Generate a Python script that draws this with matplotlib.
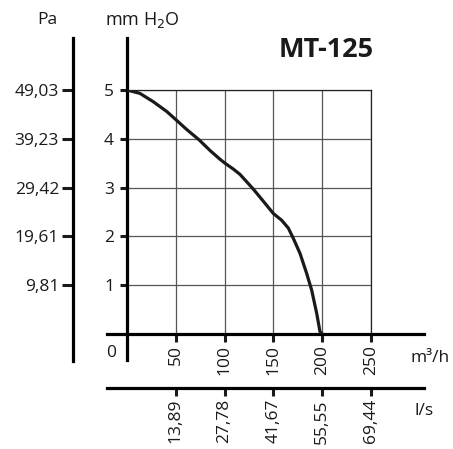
import numpy as np
import matplotlib
matplotlib.use("Agg")
import matplotlib.pyplot as plt

plt.rcParams['font.family'] = ['Open Sans', 'DejaVu Sans']

# curva caudal (m3/h) / presion (mm H2O)
caudal = [0, 13.3, 26.9, 40.7, 50.2, 61.2, 73.8, 85.1, 95.3, 100.4, 108.9, 115.8,
          129.4, 139.7, 149.9, 158.5, 165.3, 170.4, 177.3, 184.1, 189.2, 194.4, 197.7, 200]
presion = [5.0, 4.93, 4.76, 4.56, 4.39, 4.19, 3.98, 3.76, 3.58, 3.50, 3.38, 3.27,
           2.97, 2.72, 2.47, 2.33, 2.17, 1.96, 1.65, 1.24, 0.90, 0.42, 0.05, 0]

ticks_mmh = [50, 100, 150, 200, 250]
ticks_ls = ["13,89", "27,78", "41,67", "55,55", "69,44"]
ticks_mm = [1, 2, 3, 4, 5]
ticks_pa = ["9,81", "19,61", "29,42", "39,23", "49,03"]

W, H = 453, 449
fig = plt.figure(figsize=(W / 100, H / 100), dpi=100)
px = 72 / 100  # puntos por pixel
negro = '#1a1a1a'
fs = 12.5

pos = [127 / W, 1 - 334 / H, 244 / W, 244 / H]
ax = fig.add_axes(pos)
ax.set_xlim(0, 250)
ax.set_ylim(0, 5)

ax.plot(caudal, presion, color=negro, lw=2.3, solid_capstyle='butt',
        solid_joinstyle='round', zorder=5)

# rejilla
ax.set_xticks(ticks_mmh)
ax.set_xticklabels([str(t) for t in ticks_mmh])
ax.set_yticks(ticks_mm)
ax.grid(True, color='#555555', lw=0.9)
for s in ['top', 'right']:
    ax.spines[s].set_linewidth(0.9)
    ax.spines[s].set_color('#222222')

# ejes principales
ax.spines['left'].set_linewidth(2.3)
ax.spines['left'].set_bounds(-0.53, 6.07)
ax.spines['bottom'].set_linewidth(2.3)
ax.spines['bottom'].set_bounds(-20.5, 304)
ax.tick_params(axis='x', direction='out', length=8 * px, width=2.2, pad=3 * px,
               labelrotation=90, labelsize=fs, colors=negro)
ax.tick_params(axis='y', direction='out', length=7 * px, width=2.2, pad=6 * px,
               labelsize=fs, colors=negro)

# eje l/s
axl = fig.add_axes(pos)
axl.set_xlim(0, 250)
axl.set_ylim(0, 5)
axl.patch.set_visible(False)
for s in ['top', 'right', 'left']:
    axl.spines[s].set_visible(False)
axl.spines['bottom'].set_position(('outward', 54 * px))
axl.spines['bottom'].set_linewidth(2.3)
axl.spines['bottom'].set_bounds(-20.5, 304)
axl.set_yticks([])
axl.set_xticks(ticks_mmh)
axl.set_xticklabels(ticks_ls)
axl.tick_params(axis='x', direction='out', length=8 * px, width=2.2, pad=3 * px,
                labelrotation=90, labelsize=fs, colors=negro)

# eje Pa
axp = fig.add_axes(pos)
axp.set_xlim(0, 250)
axp.set_ylim(0, 5)
axp.patch.set_visible(False)
for s in ['top', 'right', 'bottom']:
    axp.spines[s].set_visible(False)
axp.spines['left'].set_position(('outward', 54 * px))
axp.spines['left'].set_linewidth(2.3)
axp.spines['left'].set_bounds(-0.55, 6.07)
axp.set_xticks([])
axp.set_yticks(ticks_mm)
axp.set_yticklabels(ticks_pa)
axp.tick_params(axis='y', direction='out', length=11 * px, width=2.2, pad=3 * px,
                labelsize=fs, colors=negro)

# textos
fig.text(47 / W, 1 - 20 / H, "Pa", fontsize=fs, ha='center', va='center', color=negro)
fig.text(105 / W, 1 - 20 / H, r"mm H$_2$O", fontsize=13, ha='left', va='center', color=negro)
fig.text(326 / W, 1 - 50 / H, "MT-125", fontsize=19.5, fontweight='bold', ha='center', va='center', color=negro)
fig.text(111 / W, 1 - 353 / H, "0", fontsize=fs, ha='center', va='center', color=negro)
fig.text(411 / W, 1 - 358 / H, "m³/h", fontsize=fs, ha='left', va='center', color=negro)
fig.text(414 / W, 1 - 411 / H, "l/s", fontsize=fs, ha='left', va='center', color=negro)

fig.savefig("out.png", dpi=100)
